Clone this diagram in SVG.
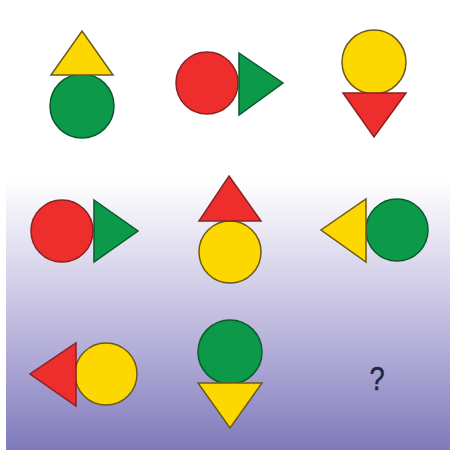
<svg xmlns="http://www.w3.org/2000/svg" width="450" height="450" viewBox="0 0 450 450">
  <defs>
    <linearGradient id="bg" x1="0" y1="180" x2="0" y2="450" gradientUnits="userSpaceOnUse">
      <stop offset="0" stop-color="#ffffff"/>
      <stop offset="0.12" stop-color="#f1f0f8"/>
      <stop offset="0.35" stop-color="#d6d3ea"/>
      <stop offset="0.6" stop-color="#b7b2da"/>
      <stop offset="1" stop-color="#7f7abb"/>
    </linearGradient>
  </defs>
  <style>
    .y { fill: #fdd700; stroke: #6b5a1a; stroke-width: 1.5; }
    .r { fill: #ee2d2d; stroke: #8a2222; stroke-width: 1.5; }
    .g { fill: #0c9a4a; stroke: #0a5a2a; stroke-width: 1.5; }
    .q { font-family: "Liberation Sans", Arial, sans-serif; font-size: 34px; fill: #23253f; stroke: #23253f; stroke-width: 0.5; }
  </style>
  <rect x="0" y="0" width="450" height="450" fill="#ffffff"/>
  <rect x="6" y="180" width="444" height="270" fill="url(#bg)"/>

  <g id="cell-1-1">
    <circle class="g" cx="82" cy="106" r="32"/>
    <polygon class="y" points="82,31 113,75 51,75"/>
  </g>
  <g id="cell-1-2">
    <circle class="r" cx="207" cy="83" r="31"/>
    <polygon class="g" points="239,53 283,83 239,115"/>
  </g>
  <g id="cell-1-3">
    <circle class="y" cx="374" cy="62" r="32"/>
    <polygon class="r" points="343,93 406,93 374,137"/>
  </g>

  <g id="cell-2-1">
    <circle class="r" cx="62" cy="231" r="31"/>
    <polygon class="g" points="94,200 138,231 94,262"/>
  </g>
  <g id="cell-2-2">
    <circle class="y" cx="230" cy="252" r="31"/>
    <polygon class="r" points="229,176 261,221 199,221"/>
  </g>
  <g id="cell-2-3">
    <circle class="g" cx="397" cy="230" r="31"/>
    <polygon class="y" points="366,199 366,262 321,230"/>
  </g>

  <g id="cell-3-1">
    <circle class="y" cx="106" cy="374" r="31"/>
    <polygon class="r" points="76,343 76,406 30,374"/>
  </g>
  <g id="cell-3-2">
    <circle class="g" cx="230" cy="352" r="32"/>
    <polygon class="y" points="198,383 262,383 230,428"/>
  </g>
  <g id="cell-3-3">
    <text class="q" x="0" y="0" text-anchor="middle" transform="translate(377,390) scale(0.8,1)">?</text>
  </g>
</svg>
